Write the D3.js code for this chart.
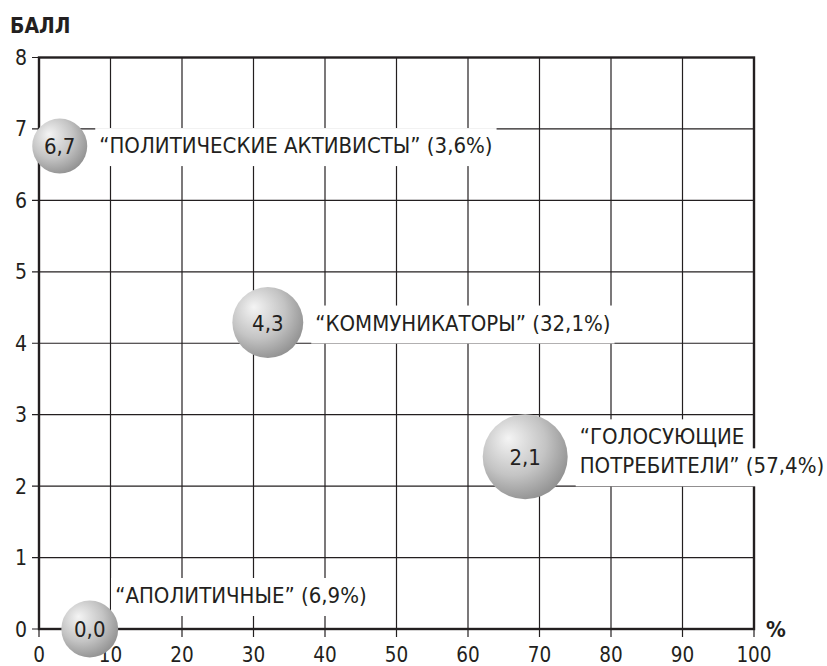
<!DOCTYPE html>
<html>
<head>
<meta charset="utf-8">
<script src="https://cdn.jsdelivr.net/npm/d3@7"></script>
<style>
  body { margin: 0; background: #fff; }
  svg text { font-family: "DejaVu Sans Condensed", "Liberation Sans Narrow", sans-serif; fill: #231f20; }
</style>
</head>
<body>
<div id="chart"></div>
<script>
// Segments: name lines, share of respondents, score, bubble position
const names = [
  ["“ПОЛИТИЧЕСКИЕ АКТИВИСТЫ” (3,6%)"],
  ["“КОММУНИКАТОРЫ” (32,1%)"],
  ["“ГОЛОСУЮЩИЕ", "ПОТРЕБИТЕЛИ” (57,4%)"],
  ["“АПОЛИТИЧНЫЕ” (6,9%)"]
];
const shares = [3.6, 32.1, 57.4, 6.9];
const scores = ["6,7", "4,3", "2,1", "0,0"];
const xPos = [2.9, 32, 68, 7.1];
const yPos = [6.76, 4.29, 2.41, 0];
const xTicks = [0, 10, 20, 30, 40, 50, 60, 70, 80, 90, 100];
const yTicks = [0, 1, 2, 3, 4, 5, 6, 7, 8];

// label placement tweaks (px, relative to the right edge of the bubble)
const labelShift = [[0, -1], [0, 0], [0, -6], [-15, -34]];

const W = 827, H = 666;
const margin = { top: 57.5, right: 73, bottom: 37, left: 39 };
const width = W - margin.left - margin.right;
const height = H - margin.top - margin.bottom;

const svg = d3.select("#chart").append("svg")
  .attr("width", W).attr("height", H);

const defs = svg.append("defs");
const grad = defs.append("radialGradient")
  .attr("id", "ball").attr("cx", "40%").attr("cy", "38%").attr("r", "70%")
  .attr("fx", "30%").attr("fy", "28%");
grad.append("stop").attr("offset", "0%").attr("stop-color", "#f4f4f4");
grad.append("stop").attr("offset", "55%").attr("stop-color", "#c4c4c4");
grad.append("stop").attr("offset", "100%").attr("stop-color", "#8a8a8a");

const g = svg.append("g").attr("transform", `translate(${margin.left},${margin.top})`);

const x = d3.scaleLinear().domain([0, 100]).range([0, width]);
const y = d3.scaleLinear().domain([0, 8]).range([height, 0]);
const r = d3.scaleLinear().domain([0, 57.4]).range([26.5, 42.5]);

// grid
g.append("g").selectAll("line").data(xTicks).join("line")
  .attr("x1", d => x(d)).attr("x2", d => x(d))
  .attr("y1", 0).attr("y2", height + 8)
  .attr("stroke", "#231f20").attr("stroke-width", 1.2);
g.append("g").selectAll("line").data(yTicks).join("line")
  .attr("x1", -7).attr("x2", width)
  .attr("y1", d => y(d)).attr("y2", d => y(d))
  .attr("stroke", "#231f20").attr("stroke-width", 1.2);

// frame
g.append("rect").attr("x", 0).attr("y", 0).attr("width", width).attr("height", height)
  .attr("fill", "none").attr("stroke", "#231f20").attr("stroke-width", 2.4);

// tick labels
g.append("g").selectAll("text").data(xTicks).join("text")
  .attr("x", d => x(d)).attr("y", height + 33)
  .attr("text-anchor", "middle").style("font-size", "20.5px")
  .text(d => d);
g.append("g").selectAll("text").data(yTicks).join("text")
  .attr("x", -12).attr("y", d => y(d) + 7.5)
  .attr("text-anchor", "end").style("font-size", "21px")
  .text(d => d);

// axis titles
svg.append("text").attr("x", 10).attr("y", 33)
  .style("font-size", "21px").style("font-weight", "bold").text("БАЛЛ");
g.append("text").attr("x", width + 12).attr("y", height + 8)
  .style("font-size", "22px").style("font-weight", "bold").text("%");

// labels with white boxes
const lineH = 29, fs = 22, cap = 16;
names.forEach((lines, i) => {
  const cx = x(xPos[i]), cy = y(yPos[i]), rad = r(shares[i]);
  const lx = cx + rad + 12 + labelShift[i][0];
  const mid = cy + labelShift[i][1];
  const y0 = mid - (lines.length - 1) * lineH / 2;
  const lg = g.append("g");
  lines.forEach((t, j) => {
    const c = y0 + j * lineH;
    const bg = lg.append("rect").attr("fill", "#fff");
    const txt = lg.append("text")
      .attr("x", lx).attr("y", c + cap / 2)
      .style("font-size", fs + "px").text(t);
    const b = txt.node().getBBox();
    bg.attr("x", b.x - 4).attr("y", c - cap / 2 - 9)
      .attr("width", b.width + 8).attr("height", cap + 22);
  });
});

// bubbles
const bub = g.append("g").selectAll("g").data(scores).join("g")
  .attr("transform", (d, i) => `translate(${x(xPos[i])},${y(yPos[i])})`);
bub.append("circle").attr("r", (d, i) => r(shares[i])).attr("fill", "url(#ball)");
bub.append("text").attr("text-anchor", "middle").attr("y", 8)
  .style("font-size", "22px").text(d => d);
</script>
</body>
</html>
